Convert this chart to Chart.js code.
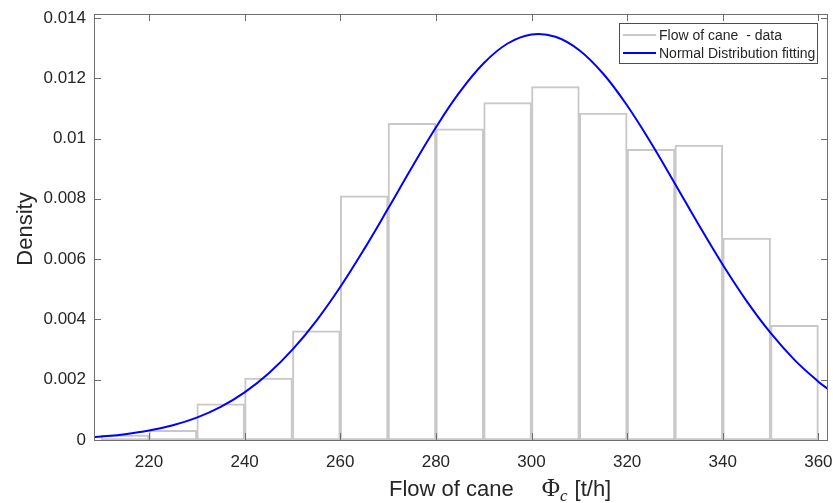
<!DOCTYPE html>
<html>
<head>
<meta charset="utf-8">
<script src="https://cdn.jsdelivr.net/npm/chart.js@4.4.1/dist/chart.umd.min.js"></script>
<style>
  html, body { margin: 0; padding: 0; background: #fff; }
  #wrap { width: 833px; height: 503px; }
</style>
</head>
<body>
<div id="wrap"><canvas id="flowChart" width="833" height="503"></canvas></div>
<script>
// Histogram of cane flow (10 t/h bins) + fitted normal density
const binCenters = [215, 225, 235, 245, 255, 265, 275, 285, 295, 305, 315, 325, 335, 345, 355];
const binDensity = [0.00016, 0.00032, 0.0012, 0.00205, 0.00362, 0.0081, 0.0105, 0.01032, 0.01119,
  0.01172, 0.01084, 0.00964, 0.00978, 0.0067, 0.0038];

const curveX = [208, 210, 215, 220, 225, 230, 235, 240, 245, 250, 255, 260, 265, 270, 275, 280,
  285, 290, 295, 300, 305, 310, 315, 320, 325, 330, 335, 340, 345, 350, 355, 360, 362];
const curveDensity = [0.000095, 0.000117, 0.000194, 0.000312, 0.000489, 0.000742, 0.001098, 0.001579,
  0.002205, 0.002996, 0.003954, 0.005074, 0.006331, 0.007675, 0.009047, 0.010366, 0.011544, 0.012497,
  0.013151, 0.013453, 0.013377, 0.012930, 0.012148, 0.011095, 0.009849, 0.008501, 0.007130, 0.005814,
  0.004608, 0.003551, 0.002659, 0.001936, 0.001692];

const xTicks = [220, 240, 260, 280, 300, 320, 340, 360];
const yTicks = [0, 0.002, 0.004, 0.006, 0.008, 0.01, 0.012, 0.014];
const seriesNames = ['Flow of cane  - data', 'Normal Distribution fitting'];

const SANS = '"Liberation Sans", Arial, Helvetica, sans-serif';
const SERIF = '"Liberation Serif", "Times New Roman", serif';
const TEXT = '#262626';
const AXIS = '#6e6e6e';

// box, inward ticks, legend and axis titles (matlab look)
const matlabFrame = {
  id: 'matlabFrame',
  afterDraw(chart) {
    const { ctx, chartArea: a, scales: { x, y } } = chart;
    ctx.save();

    ctx.strokeStyle = AXIS;
    ctx.lineWidth = 1;
    ctx.strokeRect(a.left + 0.5, a.top + 0.5, a.right - a.left, a.bottom - a.top);

    const tl = 7;
    ctx.beginPath();
    xTicks.forEach(v => {
      const px = Math.round(x.getPixelForValue(v)) + 0.5;
      ctx.moveTo(px, a.bottom); ctx.lineTo(px, a.bottom - tl);
      ctx.moveTo(px, a.top); ctx.lineTo(px, a.top + tl);
    });
    yTicks.forEach(v => {
      const py = Math.round(y.getPixelForValue(v)) + 0.5;
      ctx.moveTo(a.left, py); ctx.lineTo(a.left + tl, py);
      ctx.moveTo(a.right + 1, py); ctx.lineTo(a.right + 1 - tl, py);
    });
    ctx.stroke();

    // legend box
    const bx = a.right - 208, by = a.top + 9, bw = 198, bh = 40;
    ctx.fillStyle = '#fff';
    ctx.fillRect(bx, by, bw, bh);
    ctx.strokeStyle = '#4d4d4d';
    ctx.strokeRect(bx + 0.5, by + 0.5, bw, bh);
    ctx.font = '14px ' + SANS;
    ctx.textAlign = 'left';
    ctx.textBaseline = 'alphabetic';
    chart.data.datasets.forEach((ds, i) => {
      const ly = by + 12 + i * 18;
      ctx.strokeStyle = ds.borderColor;
      ctx.lineWidth = 2;
      ctx.beginPath();
      ctx.moveTo(bx + 4, ly); ctx.lineTo(bx + 37, ly);
      ctx.stroke();
      ctx.fillStyle = TEXT;
      ctx.fillText(ds.label, bx + 40, ly + 5);
    });

    // y title
    ctx.fillStyle = TEXT;
    ctx.save();
    ctx.translate(32, (a.top + a.bottom) / 2 + 2);
    ctx.rotate(-Math.PI / 2);
    ctx.textAlign = 'center';
    ctx.font = '22px ' + SANS;
    ctx.fillText('Density', 0, 0);
    ctx.restore();

    // x title with Φ_c
    const base = a.bottom + 56;
    let tx = a.left + 295;
    ctx.font = '22px ' + SANS;
    ctx.fillText('Flow of cane', tx, base);
    tx += ctx.measureText('Flow of cane').width + 28;
    ctx.font = '25px ' + SERIF;
    ctx.fillText('Φ', tx, base);
    tx += ctx.measureText('Φ').width;
    ctx.font = 'italic 17px ' + SERIF;
    ctx.fillText('c', tx, base + 5);
    tx += ctx.measureText('c').width + 7;
    ctx.font = '22px ' + SANS;
    ctx.fillText('[t/h]', tx, base);

    ctx.restore();
  }
};

new Chart(document.getElementById('flowChart'), {
  data: {
    datasets: [
      {
        type: 'bar',
        label: seriesNames[0],
        data: binCenters.map((c, i) => ({ x: c, y: binDensity[i] })),
        backgroundColor: '#ffffff',
        borderColor: '#c8c8c8',
        borderWidth: 2,
        borderSkipped: false,
        barPercentage: 1,
        categoryPercentage: 1,
        order: 2
      },
      {
        type: 'line',
        label: seriesNames[1],
        data: curveX.map((v, i) => ({ x: v, y: curveDensity[i] })),
        borderColor: '#0000ff',
        borderWidth: 2,
        pointRadius: 0,
        fill: false,
        tension: 0.4,
        order: 1
      }
    ]
  },
  options: {
    responsive: false,
    animation: false,
    layout: { padding: { top: 14, right: 6, left: 0, bottom: 0 } },
    plugins: {
      legend: { display: false },
      tooltip: { enabled: false }
    },
    scales: {
      x: {
        type: 'linear',
        min: 208.5,
        max: 361.8,
        offset: false,
        grid: { display: false, drawTicks: false },
        border: { display: false },
        afterBuildTicks: s => { s.ticks = xTicks.map(v => ({ value: v })); },
        afterFit: s => { s.height = 63; s.paddingLeft = 0; s.paddingRight = 0; },
        ticks: {
          padding: 12,
          maxRotation: 0,
          autoSkip: false,
          color: TEXT,
          font: { family: SANS, size: 17 }
        }
      },
      y: {
        type: 'linear',
        min: 0,
        max: 0.01413,
        grid: { display: false, drawTicks: false },
        border: { display: false },
        afterBuildTicks: s => { s.ticks = yTicks.map(v => ({ value: v })); },
        afterFit: s => { s.width = 94; s.paddingTop = 0; s.paddingBottom = 0; },
        ticks: {
          padding: 8,
          color: TEXT,
          font: { family: SANS, size: 17 },
          callback: v => String(v)
        }
      }
    }
  },
  plugins: [matlabFrame]
});
</script>
</body>
</html>
